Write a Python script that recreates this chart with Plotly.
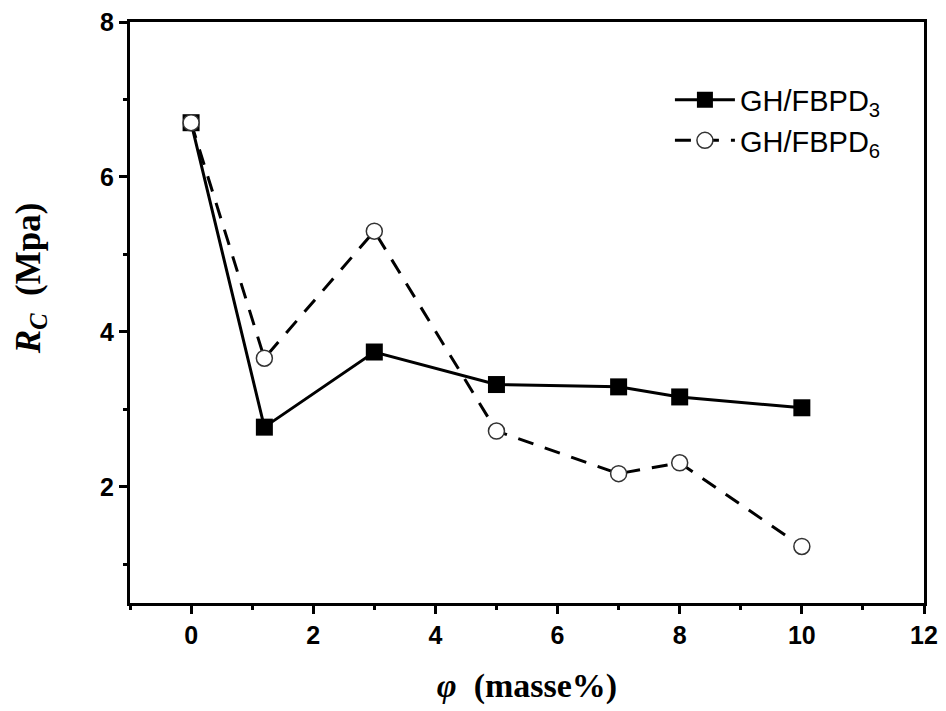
import plotly.graph_objects as go

# Mass fraction (masse%) and compressive strength R_C (MPa)
phi = [0, 1.2, 3, 5, 7, 8, 10]
rc_fbpd3 = [6.70, 2.77, 3.74, 3.32, 3.29, 3.16, 3.02]
rc_fbpd6 = [6.70, 3.66, 5.30, 2.72, 2.17, 2.31, 1.23]

x_ticks = [0, 2, 4, 6, 8, 10, 12]
y_ticks = [2, 4, 6, 8]

fig = go.Figure()

fig.add_trace(go.Scatter(
    x=phi, y=rc_fbpd3, mode="lines+markers",
    name="GH/FBPD<sub>3</sub>", legendgroup="a",
    line=dict(color="black", width=3),
    marker=dict(symbol="square", size=17, color="black"),
))
fig.add_trace(go.Scatter(
    x=phi, y=rc_fbpd6, mode="lines+markers",
    name="GH/FBPD<sub>6</sub>", legendgroup="b",
    line=dict(color="black", width=3, dash="16px,12px"),
    marker=dict(symbol="circle", size=16, color="white",
                line=dict(color="#333333", width=1.5)),
))

serif = "Liberation Serif, Times New Roman, serif"
sans = "Liberation Sans, Arial, sans-serif"

axis_common = dict(
    showline=True, linecolor="black", linewidth=3, mirror=True,
    ticks="outside", ticklen=8, tickwidth=3, tickcolor="black",
    showgrid=False, zeroline=False, automargin=False,
    tickfont=dict(family=sans, size=25, color="black"),
)

fig.update_xaxes(
    range=[-1, 12], tickvals=x_ticks, ticktext=[f"<b>{v}</b>" for v in x_ticks],
    minor=dict(dtick=1, tick0=-1, ticks="outside", ticklen=4, tickwidth=3, tickcolor="black"),
    title=dict(text="<b><i>φ</i>  (masse%)</b>", standoff=26,
               font=dict(family=serif, size=34, color="black")),
    **axis_common,
)
fig.update_yaxes(
    range=[0.5, 8], tickvals=y_ticks, ticktext=[f"<b>{v}</b>" for v in y_ticks],
    minor=dict(dtick=1, tick0=1, ticks="outside", ticklen=4, tickwidth=3, tickcolor="black"),
    **axis_common,
)

# Y-axis title placed as a rotated annotation, sitting a little above the axis centre
fig.add_annotation(
    text="<b><i>R<sub>C</sub></i>  (Mpa)</b>",
    xref="paper", yref="paper", x=-0.126, y=0.559,
    xanchor="center", yanchor="middle", textangle=-90, showarrow=False,
    font=dict(family=serif, size=35, color="black"),
)

fig.update_layout(
    width=946, height=711,
    margin=dict(l=130, r=22, t=22, b=108),
    paper_bgcolor="white", plot_bgcolor="white",
    showlegend=True,
    legend=dict(
        x=0.68, y=0.91, xanchor="left", yanchor="top",
        bgcolor="rgba(0,0,0,0)",
        font=dict(family=sans, size=29, color="black"),
        itemwidth=60, tracegroupgap=0,
    ),
)

fig.write_html("out.html")
